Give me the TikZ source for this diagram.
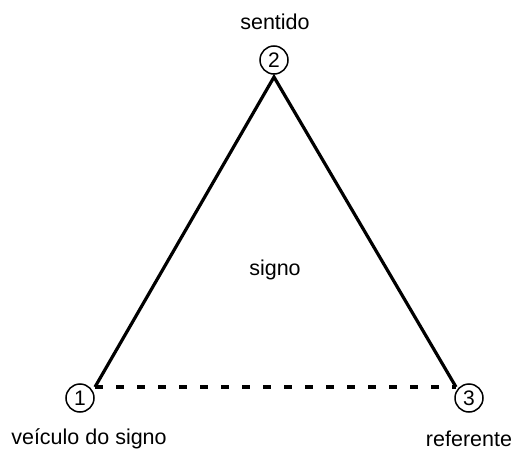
\documentclass[tikz,border=0pt]{standalone}
\usepackage{fontspec}
\setmainfont{Liberation Sans}
\begin{document}
\begin{tikzpicture}[x=1pt,y=-1pt,
  num/.style={circle,draw,line width=1.5pt,minimum size=28pt,inner sep=0pt,font=\fontsize{21}{24}\selectfont},
  lbl/.style={font=\fontsize{21.5}{24}\selectfont,inner sep=0pt},
  side/.style={line width=3.2pt},
  base/.style={line width=4.5pt,dash pattern=on 8pt off 13pt}]
\useasboundingbox (0,0) rectangle (517,452);
\coordinate (A) at (95,387);
\coordinate (B) at (274,77);
\coordinate (C) at (456,387);
\node[num] (n1) at (80,398) {1};
\node[num] (n2) at (274,60) {2};
\node[num] (n3) at (469,398) {3};
\draw[side,line join=miter] (A) -- (B) -- (C);
\draw[base] (A) -- (C);
\node[lbl] (t2) at (275,22) {sentido};
\node[lbl] (t1) at (89,439) {veículo do signo};
\node[lbl] (t3) at (469,439) {referente};
\node[lbl] (ts) at (275,270) {signo};
\end{tikzpicture}
\end{document}
